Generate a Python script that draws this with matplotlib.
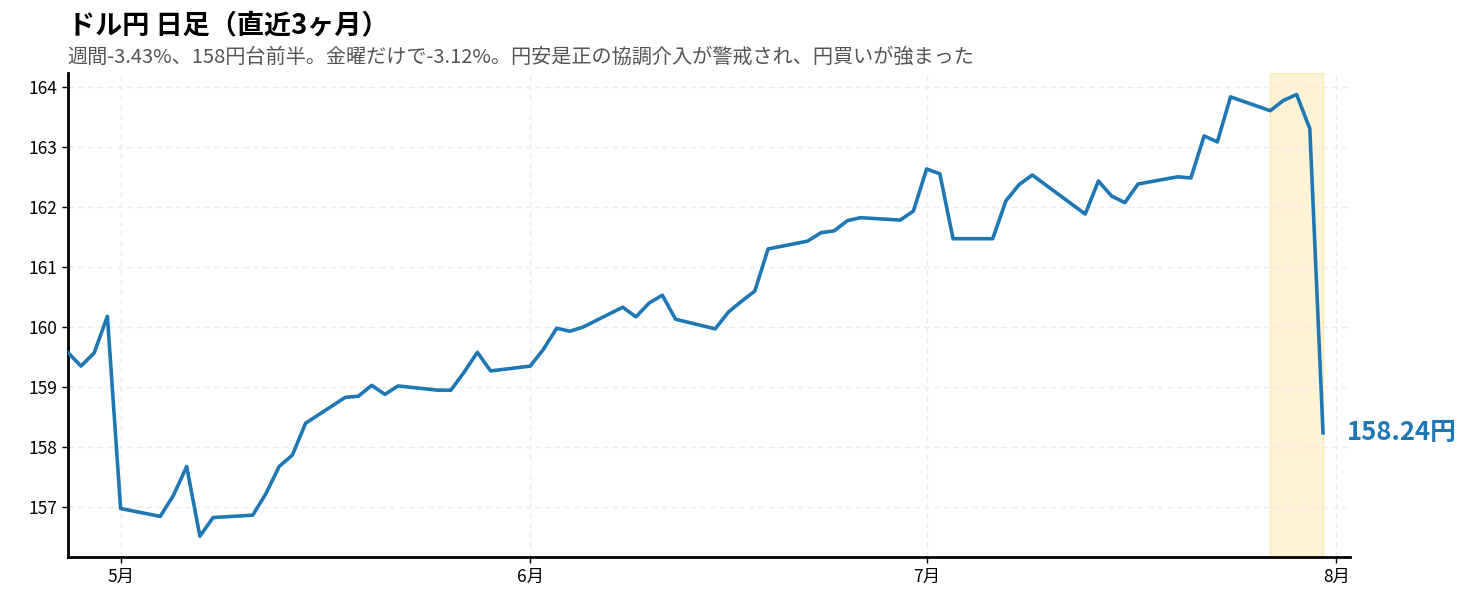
import matplotlib
matplotlib.use("Agg")
import matplotlib.pyplot as plt
import matplotlib.dates as mdates
import pandas as pd

plt.rcParams['font.family'] = ['Noto Sans CJK JP', 'DejaVu Sans']

dates = ["04-27","04-28","04-29","04-30","05-01","05-04","05-05","05-06","05-07","05-08",
         "05-11","05-12","05-13","05-14","05-15","05-18","05-19","05-20","05-21","05-22",
         "05-25","05-26","05-27","05-28","05-29","06-01","06-02","06-03","06-04","06-05",
         "06-08","06-09","06-10","06-11","06-12","06-15","06-16","06-17","06-18","06-19",
         "06-22","06-23","06-24","06-25","06-26","06-29","06-30","07-01","07-02","07-03",
         "07-06","07-07","07-08","07-09","07-13","07-14","07-15","07-16","07-17",
         "07-20","07-21","07-22","07-23","07-24","07-27","07-28","07-29","07-30","07-31"]
values = [159.58,159.35,159.57,160.18,156.98,156.85,157.20,157.68,156.52,156.83,
          156.87,157.23,157.68,157.87,158.40,158.83,158.85,159.03,158.88,159.02,
          158.95,158.95,159.25,159.58,159.27,159.35,159.63,159.98,159.93,160.00,
          160.33,160.17,160.40,160.53,160.13,159.97,160.25,160.43,160.60,161.30,
          161.43,161.57,161.60,161.77,161.82,161.78,161.93,162.63,162.55,161.47,
          161.47,162.10,162.37,162.53,161.88,162.43,162.18,162.07,162.38,
          162.50,162.48,163.18,163.08,163.83,163.60,163.77,163.87,163.30,158.24]
highlight = ("07-27", "07-31")
year = "2024-"

x = pd.to_datetime([year + d for d in dates])

fig = plt.figure(figsize=(14.73, 6.07), dpi=100)
ax = fig.add_axes([0.046, 0.082, 0.8705, 0.798])
ax.axvspan(pd.Timestamp(year + highlight[0]), pd.Timestamp(year + highlight[1]),
           color="#fff3d6", ec="#fde9b0", lw=1, zorder=0)
ax.plot(x, values, color="#1f77b4", lw=2.6, zorder=3)
ax.set_xlim(pd.Timestamp(year + "04-27"), pd.Timestamp(year + "08-02 01:00"))
ax.set_ylim(156.17, 164.23)
ax.set_yticks(range(157, 165))
ax.xaxis.set_major_locator(mdates.MonthLocator())
ax.xaxis.set_major_formatter(mdates.DateFormatter('%-m月'))
ax.grid(True, ls=(0, (4, 3)), color="#ececec", lw=1)
for s in ["top", "right"]:
    ax.spines[s].set_visible(False)
for s in ["left", "bottom"]:
    ax.spines[s].set_linewidth(2)
ax.tick_params(labelsize=12.5, length=4, width=1)
ax.annotate(f"{values[-1]:.2f}円", xy=(x[-1], values[-1]), xytext=(17, 0),
            textcoords="offset points", color="#1f77b4", fontsize=18.5,
            fontweight="bold", va="center", ha="left", annotation_clip=False)
fig.text(0.046, 0.958, "ドル円 日足（直近3ヶ月）", fontsize=19.5, fontweight="bold", va="center")
fig.text(0.046, 0.905, "週間-3.43%、158円台前半。金曜だけで-3.12%。円安是正の協調介入が警戒され、円買いが強まった",
         fontsize=14.5, color="#555555", va="center")
fig.savefig("out.png", dpi=100)
